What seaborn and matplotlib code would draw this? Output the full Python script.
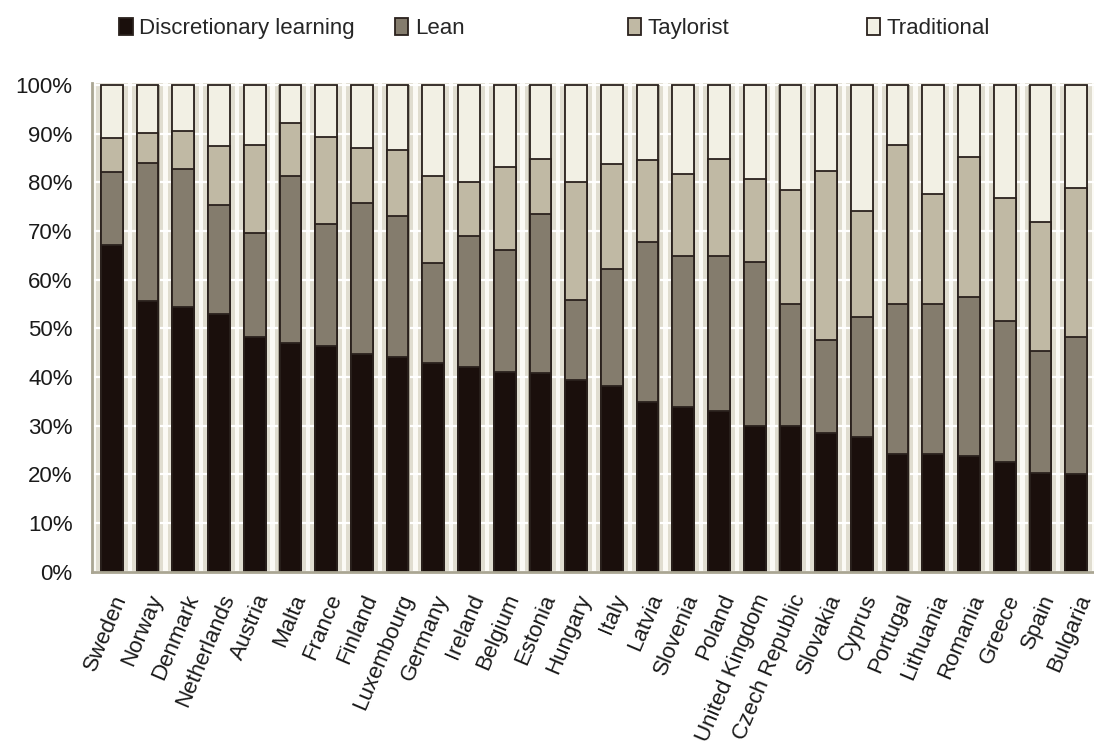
import numpy as np
import pandas as pd
import matplotlib
matplotlib.use('Agg')
import matplotlib.pyplot as plt
import seaborn as sns
from matplotlib.patches import Patch

# datos (porcentaje de cada forma de organizacion del trabajo)
countries = ['Sweden', 'Norway', 'Denmark', 'Netherlands', 'Austria', 'Malta', 'France',
             'Finland', 'Luxembourg', 'Germany', 'Ireland', 'Belgium', 'Estonia', 'Hungary',
             'Italy', 'Latvia', 'Slovenia', 'Poland', 'United Kingdom', 'Czech Republic',
             'Slovakia', 'Cyprus', 'Portugal', 'Lithuania', 'Romania', 'Greece', 'Spain',
             'Bulgaria']
discretionary = [67.1, 55.6, 54.3, 52.9, 48.2, 46.9, 46.4, 44.7, 44.2, 42.9, 42.0, 41.1, 40.8, 39.5,
                 38.2, 34.8, 33.8, 33.1, 30.0, 30.0, 28.6, 27.7, 24.2, 24.2, 23.8, 22.6, 20.3, 20.1]
lean = [15.1, 28.4, 28.4, 22.4, 21.5, 34.5, 25.0, 31.1, 28.9, 20.5, 27.0, 25.0, 32.7, 16.3,
        24.1, 33.0, 31.1, 31.8, 33.6, 25.0, 19.0, 24.7, 30.8, 30.8, 32.7, 28.9, 25.0, 28.2]
taylorist = [7.0, 6.2, 7.8, 12.2, 17.9, 10.9, 18.0, 11.3, 13.5, 18.0, 11.1, 17.0, 11.3, 24.3,
             21.5, 16.9, 16.9, 20.0, 17.0, 23.4, 34.7, 21.7, 32.7, 22.6, 28.8, 25.2, 26.6, 30.5]
traditional = [10.8, 9.8, 9.5, 12.5, 12.4, 7.7, 10.6, 12.9, 13.4, 18.6, 19.9, 16.9, 15.2, 19.9,
               16.2, 15.3, 18.2, 15.1, 19.4, 21.6, 17.7, 25.9, 12.3, 22.4, 14.7, 23.3, 28.1, 21.2]
series_names = ['Discretionary learning', 'Lean', 'Taylorist', 'Traditional']

colors = ['#1a0f0c', '#847c6d', '#c0b9a4', '#f2f0e4']
edge = '#2a211d'

df = pd.DataFrame({'country': countries, 'Discretionary learning': discretionary,
                   'Lean': lean, 'Taylorist': taylorist, 'Traditional': traditional})
cum = df[series_names].cumsum(axis=1)

sns.set_style('white')
plt.rcParams['font.family'] = ['Liberation Sans', 'DejaVu Sans']

fig = plt.figure(figsize=(10.94, 7.51), dpi=100)
ax = fig.add_axes([92 / 1094, 0.2387, 1 - 92 / 1094, 0.648 * 1.004])
ax.set_facecolor('#e0ddd0')

n = len(countries)
# franjas claras entre barras
for k in range(n + 1):
    ax.axvspan(k - 0.5 - 0.06, k - 0.5 + 0.06, color='#fbfaf5', lw=0, zorder=0.3)

# sombra gris alrededor de cada barra
sns.barplot(x=df['country'], y=cum['Traditional'], order=countries, color='#aca899',
            saturation=1, width=0.67, linewidth=0, ax=ax)

# barras apiladas: se dibuja de la serie acumulada mayor a la menor
for name, col in zip(series_names[::-1], colors[::-1]):
    sns.barplot(x=df['country'], y=cum[name], order=countries, color=col, saturation=1,
                width=0.61, edgecolor=edge, linewidth=1.3, ax=ax)

ax.set_axisbelow(True)
ax.yaxis.grid(True, color='white', linewidth=1.6)
ax.xaxis.grid(False)
ax.set_xlim(-0.557, 27.354)
ax.set_ylim(0, 100.4)
ax.set_xlabel('')
ax.set_ylabel('')

ax.set_yticks(np.arange(0, 101, 10))
ax.set_yticklabels([f'{v}%' for v in range(0, 101, 10)], fontsize=16, color='#1a1a1a')
ax.set_xticks(range(n))
ax.set_xticklabels(countries, rotation=67, ha='right', rotation_mode='anchor', fontsize=16,
                   color='#1a1a1a')
ax.set_xticks(np.arange(-0.5, n, 1), minor=True)
ax.tick_params(axis='x', which='major', length=0, pad=14)
ax.tick_params(axis='x', which='minor', length=6, width=1.5, color='#aaa693', direction='out')
ax.tick_params(axis='y', length=6, width=1.5, color='#aaa693', direction='out', pad=8)

for s in ['top', 'right']:
    ax.spines[s].set_visible(False)
for s in ['left', 'bottom']:
    ax.spines[s].set_color('#aaa693')
    ax.spines[s].set_linewidth(2)

# leyenda arriba, una entrada por columna como en el original
legend_x = [0.109, 0.361, 0.574, 0.7925]
for name, col, x in zip(series_names, colors, legend_x):
    fig.legend(handles=[Patch(facecolor=col, edgecolor=edge, linewidth=1.3)], labels=[name],
               loc='center left', bbox_to_anchor=(x, 0.962), frameon=False, fontsize=16,
               handlelength=0.6, handleheight=0.8, handletextpad=0.3, borderpad=0,
               borderaxespad=0)

fig.savefig('out.png', dpi=100)
